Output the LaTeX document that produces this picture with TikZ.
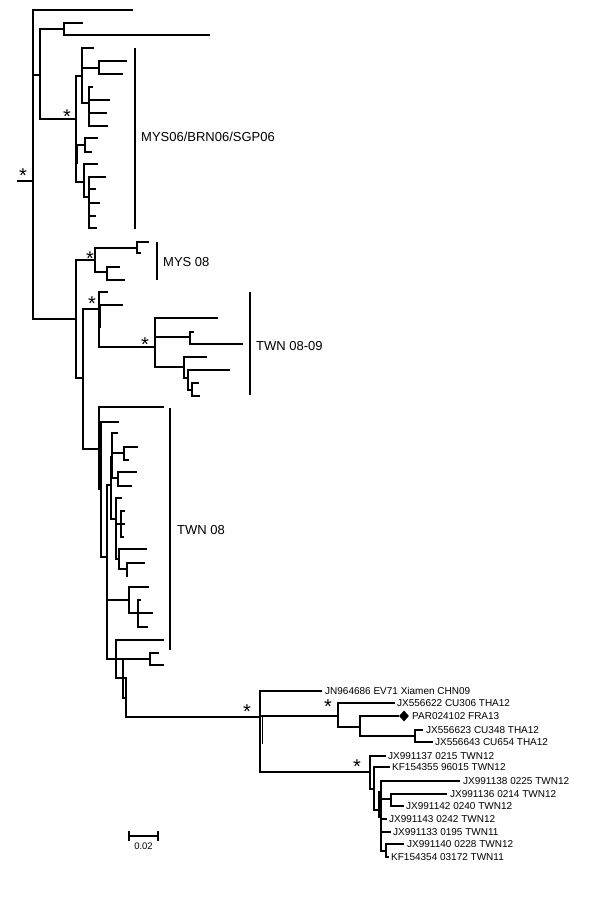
\documentclass[tikz,border=0pt]{standalone}
\usepackage{fontspec}
\setmainfont{Liberation Sans}
\usepackage{tikz}
\usetikzlibrary{positioning,shapes.geometric}
\tikzset{
    br/.style={line width=1.3pt,line cap=rect},
    grpbar/.style={line width=2pt},
    leaf/.style={anchor=west,inner sep=0pt,font=\fontsize{10pt}{12pt}\selectfont,text height=7.2pt,text depth=0pt},
    grp/.style={anchor=west,inner sep=0pt,font=\fontsize{13pt}{15pt}\selectfont,text height=9.3pt,text depth=0pt},
    star/.style={inner sep=0pt,font=\fontsize{20pt}{20pt}\selectfont,yshift=-4pt},
    diam/.style={diamond,fill=black,inner sep=0pt,minimum width=10pt,minimum height=11pt},
}

\begin{document}
\begin{tikzpicture}[x=1pt,y=-1pt]
\fill[white] (0,0) rectangle (600,903);
\useasboundingbox (0,0) rectangle (600,903);

% root and top clades
\draw[br] (33,10) -- (33,319);
\draw[br] (18,181) -- (33,181);
\draw[br] (33,10) -- (132,10);
\draw[br] (33,75) -- (40,75) (40,29) -- (40,119);
\draw[br] (40,29) -- (64,29) (64,23) -- (64,35);
\draw[br] (64,23) -- (82,23) (64,35) -- (209,35);
\draw[br] (40,119) -- (76,119);

% MYS06/BRN06/SGP06
\draw[br] (76,76) -- (76,182) (77.5,145) -- (77.5,163);
\draw[br] (76,76) -- (82,76) (82,48) -- (82,103);
\draw[br] (82,48) -- (93,48);
\draw[br] (82,68) -- (99,68) (99,61) -- (99,74);
\draw[br] (99,61) -- (126,61) (99,74) -- (122,74);
\draw[br] (82,103) -- (89,103) (89,87) -- (89,126);
\foreach \y/\e in {87/92,100/109,113/106,126/107}
    \draw[br] (89,\y) -- (\e,\y);
\draw[br] (76,145) -- (85,145) (85,138) -- (85,152);
\draw[br] (85,138) -- (97,138) (85,152) -- (91,152);
\draw[br] (76,182) -- (84,182) (84,164) -- (84,197);
\draw[br] (84,164) -- (97,164) (84,197) -- (89,197) (89,177) -- (89,228);
\foreach \y/\e in {177/105,189/95,203/99,216/95,228/96}
    \draw[br] (89,\y) -- (\e,\y);

% MYS 08
\draw[br] (33,319) -- (76,319) (76,260) -- (76,378);
\draw[br] (76,260) -- (95,260) (95,248) -- (95,272);
\draw[br] (95,248) -- (137,248) (137,242) -- (137,253);
\draw[br] (137,242) -- (148,242) (137,253) -- (140,253);
\draw[br] (95,272) -- (107,272) (107,267) -- (107,280);
\draw[br] (107,267) -- (119,267) (107,280) -- (124,280);

% TWN 08-09
\draw[br] (76,378) -- (83,378) (83,309) -- (83,449);
\draw[br] (83,309) -- (99,309) (99,292) -- (99,347) (100.5,305) -- (100.5,327);
\draw[br] (99,292) -- (107,292) (99,305) -- (122,305);
\draw[br] (99,347) -- (155,347) (155,318) -- (155,367);
\draw[br] (155,318) -- (217,318);
\draw[br] (155,337) -- (190,337) (190,332) -- (190,344);
\draw[br] (190,332) -- (193,332) (190,344) -- (242,344);
\draw[br] (155,367) -- (184,367) (184,357) -- (184,378);
\draw[br] (184,357) -- (206,357) (184,378) -- (188,378) (188,370) -- (188,390);
\draw[br] (188,370) -- (229,370) (188,390) -- (192,390) (192,383) -- (192,396);
\draw[br] (192,383) -- (198,383) (192,396) -- (199,396);

% TWN 08
\draw[br] (83,449) -- (99,449) (99,407) -- (99,489);
\draw[br] (99,407) -- (163,407) (99,489) -- (101,489) (101,422) -- (101,557);
\draw[br] (101,422) -- (118,422) (101,557) -- (107,557) (107,485) -- (107,659);
\draw[br] (107,485) -- (111,485) (111,457) -- (111,519);
\draw[br] (112,433) -- (112,478) (112,433) -- (117,433);
\draw[br] (112,453) -- (124,453) (124,447) -- (124,460);
\draw[br] (124,447) -- (137,447) (124,460) -- (128,460);
\draw[br] (112,478) -- (118,478) (118,472) -- (118,486);
\draw[br] (118,472) -- (136,472) (118,486) -- (131,486);
\draw[br] (111,519) -- (116,519) (116,498) -- (116,559);
\draw[br] (116,498) -- (121,498) (116,524) -- (121,524) (121,511) -- (121,537);
\foreach \y/\e in {511/124,524/124,537/123}
    \draw[br] (121,\y) -- (\e,\y);
\draw[br] (116,559) -- (119,559) (119,549) -- (119,569);
\draw[br] (119,549) -- (146,549) (119,569) -- (127,569) (127,563) -- (127,576);
\draw[br] (127,563) -- (144,563);
\draw[br] (107,600) -- (129,600) (129,587) -- (129,613);
\draw[br] (129,587) -- (148,587) (129,613) -- (138,613) (138,600) -- (138,627);
\foreach \y/\e in {600/140,613/152,627/147}
    \draw[br] (138,\y) -- (\e,\y);
\draw[br] (116,640) -- (116,678) (116,640) -- (163,640);
\draw[br] (107,659) -- (150,659) (150,653) -- (150,665);
\draw[br] (150,653) -- (158,653) (150,665) -- (163,665);
\draw[br] (123,659) -- (123,698) (123,698) -- (126,698);
\draw[br] (116,678) -- (126,678) (126,678) -- (126,717);
\draw[br] (126,717) -- (260,717);

% group bars
\draw[grpbar] (135,48) -- (135,229);
\node[grp] (gMYS06) at (141,137) {MYS06/BRN06/SGP06};
\draw[grpbar] (157,242) -- (157,280);
\node[grp] (gMYS08) at (163,262) {MYS 08};
\draw[grpbar] (250,292) -- (250,395);
\node[grp] (gTWN0809) at (256,346) {TWN 08-09};
\draw[grpbar] (170,408) -- (170,650);
\node[grp] (gTWN08) at (177,530) {TWN 08};

% labelled tips
\node[leaf] (a1) at (325,691) {JN964686 EV71 Xiamen CHN09};
\node[leaf] (a2) at (397,703) {JX556622 CU306 THA12};
\node[diam] (par) at (404,716) {};
\node[leaf] (a3) at (412,716) {PAR024102 FRA13};
\node[leaf] (a4) at (426,730) {JX556623 CU348 THA12};
\node[leaf] (a5) at (435,742) {JX556643 CU654 THA12};
\node[leaf] (b1) at (388,756) {JX991137 0215 TWN12};
\node[leaf] (b2) at (392,767) {KF154355 96015 TWN12};
\node[leaf] (b3) at (463,781) {JX991138 0225 TWN12};
\node[leaf] (b4) at (450,794) {JX991136 0214 TWN12};
\node[leaf] (b5) at (406,806) {JX991142 0240 TWN12};
\node[leaf] (b6) at (389,819) {JX991143 0242 TWN12};
\node[leaf] (b7) at (393,832) {JX991133 0195 TWN11};
\node[leaf] (b8) at (407,844) {JX991140 0228 TWN12};
\node[leaf] (b9) at (391,857) {KF154354 03172 TWN11};

\draw[br] (260,691) -- (260,772) (262.5,717) -- (262.5,743);
\draw[br] (260,691) -- ([xshift=-4pt]a1.west);
\draw[br] (260,716) -- (338,716) (338,703) -- (338,727);
\draw[br] (338,703) -- ([xshift=-3pt]a2.west);
\draw[br] (338,727) -- (360,727) (360,716) -- (360,736);
\draw[br] (360,716) -- (par.west);
\draw[br] (360,736) -- (415,736) (415,730) -- (415,742);
\draw[br] (415,730) -- ([xshift=-4pt]a4.west);
\draw[br] (415,742) -- ([xshift=-3pt]a5.west);
\draw[br] (260,772) -- (370,772) (370,756) -- (370,789);
\draw[br] (370,756) -- ([xshift=-3pt]b1.west);
\draw[br] (370,789) -- (374,789) (374,767) -- (374,810);
\draw[br] (374,767) -- ([xshift=-3pt]b2.west);
\draw[br] (374,810) -- (381,810) (381,781) -- (381,851) (379,792) -- (379,817);
\draw[br] (381,781) -- ([xshift=-4pt]b3.west);
\draw[br] (381,799) -- (391,799) (391,794) -- (391,806);
\draw[br] (391,794) -- ([xshift=-4pt]b4.west);
\draw[br] (391,806) -- ([xshift=-3pt]b5.west);
\draw[br] (381,819) -- ([xshift=-3pt]b6.west);
\draw[br] (381,832) -- ([xshift=-3pt]b7.west);
\draw[br] (381,851) -- (386,851) (386,844) -- (386,857);
\draw[br] (386,844) -- ([xshift=-4pt]b8.west);
\draw[br] (386,857) -- ([xshift=-3pt]b9.west);

% support marks
\node[star] (s1) at (23,172) {*};
\node[star] (s2) at (67,113) {*};
\node[star] (s3) at (90,255) {*};
\node[star] (s4) at (92,300) {*};
\node[star] (s5) at (145,341) {*};
\node[star] (s6) at (247,708) {*};
\node[star] (s7) at (328,703) {*};
\node[star] (s8) at (357,763) {*};

% scale
\draw[br] (129,836) -- (158,836) (129,832) -- (129,840) (158,832) -- (158,840);
\node[inner sep=0pt,font=\fontsize{9.5pt}{11pt}\selectfont] (scl) at (143.5,846) {0.02};
\end{tikzpicture}
\end{document}
